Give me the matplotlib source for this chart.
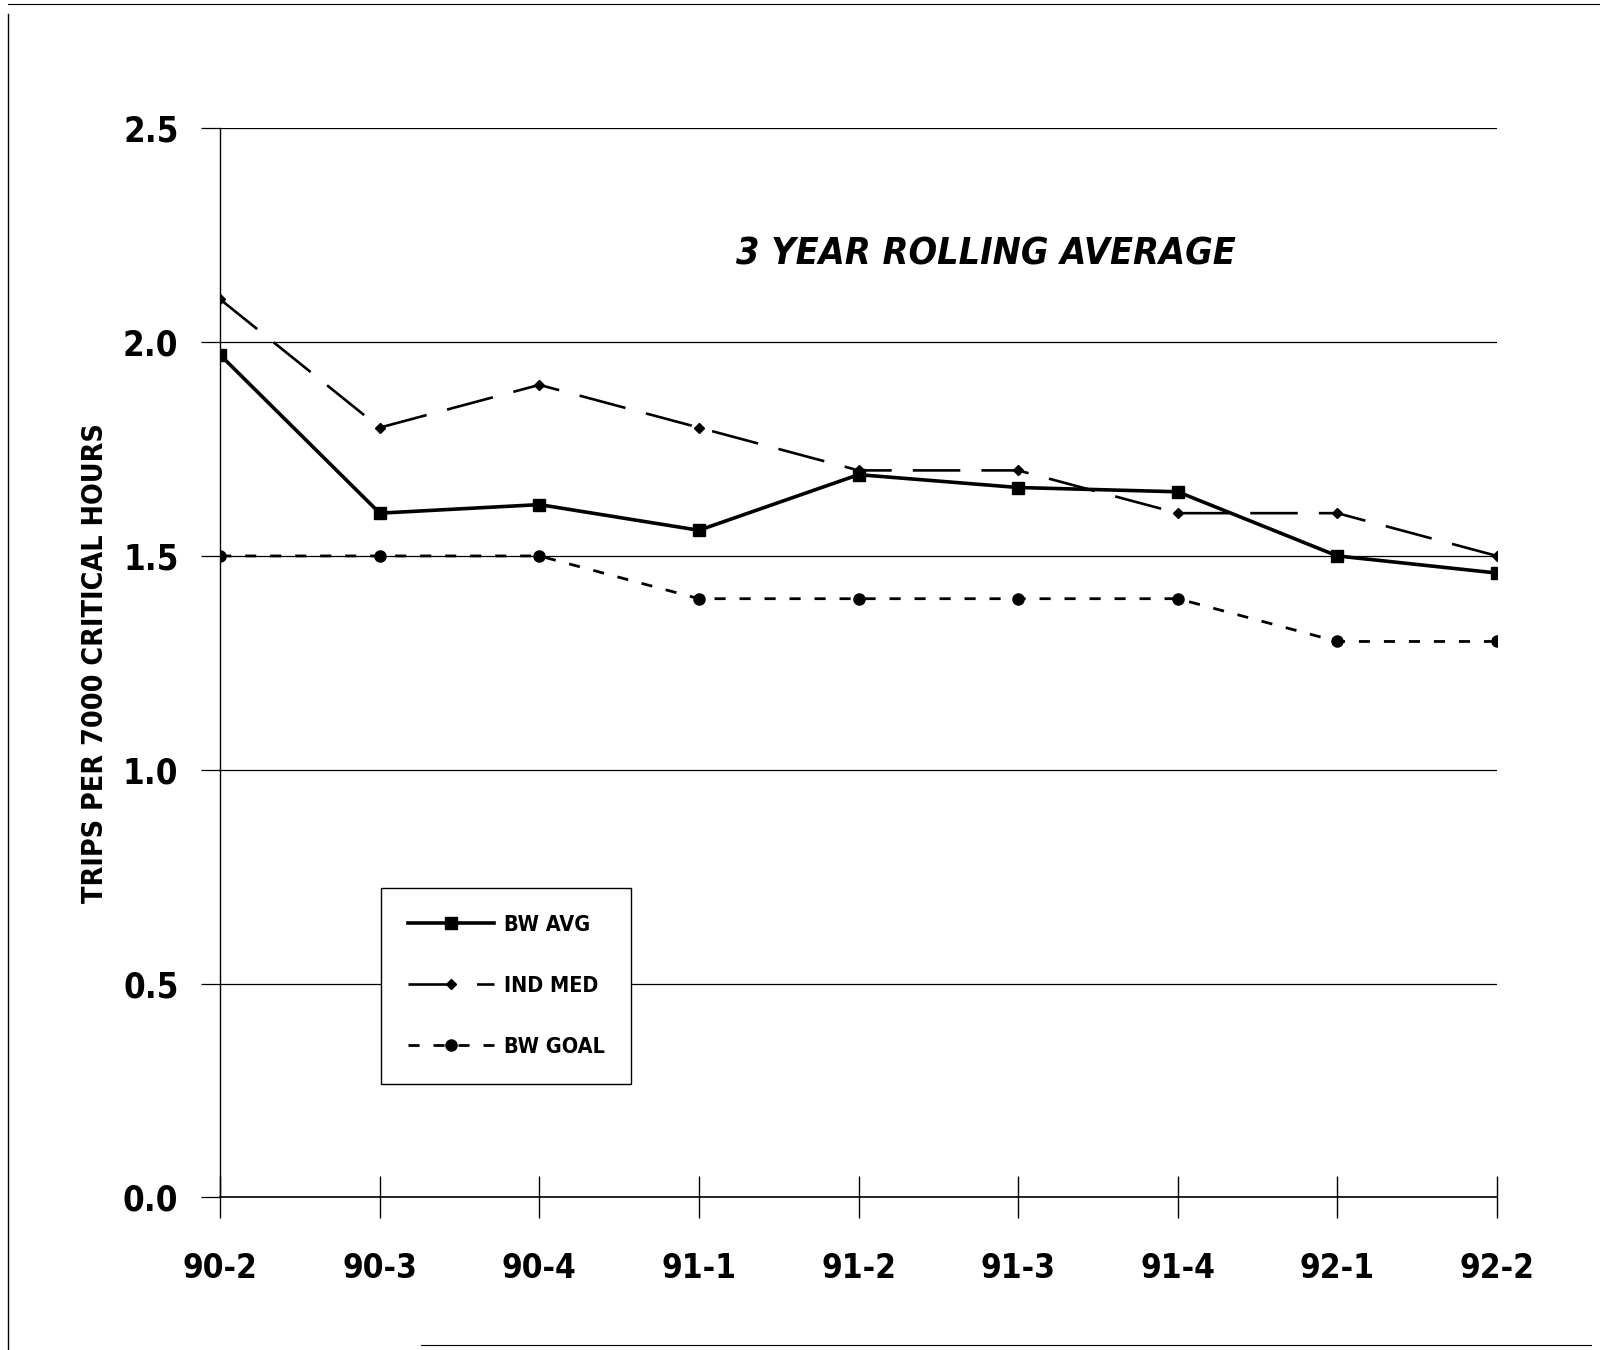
import numpy as np
import matplotlib.pyplot as plt
from matplotlib.lines import Line2D

quarters = ['90-2', '90-3', '90-4', '91-1', '91-2', '91-3', '91-4', '92-1', '92-2']
bw_avg = [1.97, 1.60, 1.62, 1.56, 1.69, 1.66, 1.65, 1.50, 1.46]
ind_med = [2.10, 1.80, 1.90, 1.80, 1.70, 1.70, 1.60, 1.60, 1.50]
bw_goal = [1.50, 1.50, 1.50, 1.40, 1.40, 1.40, 1.40, 1.30, 1.30]
yticks = [0.0, 0.5, 1.0, 1.5, 2.0, 2.5]

plt.rcParams['font.family'] = ['DejaVu Sans']
plt.rcParams['font.stretch'] = 'condensed'

fig = plt.figure(figsize=(16.07, 13.5), dpi=100)
ax = fig.add_axes([0.137, 0.113, 0.7945, 0.792])

x = np.arange(len(quarters))
ax.plot(x, bw_avg, '-', color='black', lw=2.6, marker='s', markersize=8, label='BW AVG')
ax.plot(x, ind_med, color='black', lw=1.9, dashes=(18, 8), marker='D', markersize=5, label='IND MED')
ax.plot(x, bw_goal, color='black', lw=2.0, dashes=(4, 5), marker='o', markersize=8, label='BW GOAL')

ax.set_xlim(0, 8)
ax.set_ylim(0, 2.5)
ax.set_xticks(x)
ax.set_xticklabels(quarters)
ax.set_yticks(yticks)
ax.set_yticklabels(['%.1f' % v for v in yticks])
ax.yaxis.grid(True, color='black', lw=0.9)
ax.set_axisbelow(True)
ax.tick_params(axis='y', length=14, width=0.9, pad=16, labelsize=25)
ax.tick_params(axis='x', direction='inout', length=30, width=1.0, pad=24, labelsize=24)
for lab in ax.get_xticklabels() + ax.get_yticklabels():
    lab.set_fontweight('bold')
    lab.set_fontstretch('condensed')
ax.spines['top'].set_visible(False)
ax.spines['right'].set_visible(False)
ax.spines['left'].set_linewidth(1.0)
ax.spines['bottom'].set_linewidth(1.2)

ax.set_ylabel('TRIPS PER 7000 CRITICAL HOURS', fontsize=20.5, fontweight='bold',
              fontstretch='condensed', labelpad=10)

ax.text(0.6, 0.882, '3 YEAR ROLLING AVERAGE', transform=ax.transAxes, ha='center', va='center',
        fontsize=27, fontweight='bold', fontstyle='italic', fontstretch='condensed')

leg = ax.legend(loc='upper left', bbox_to_anchor=(381 / 1607, 1 - 888 / 1350),
                bbox_transform=fig.transFigure, borderaxespad=0, fancybox=False,
                edgecolor='black', framealpha=1, handlelength=4.0, labelspacing=1.9,
                borderpad=1.25, handletextpad=0.45,
                prop={'size': 15.5, 'weight': 'bold', 'stretch': 'condensed'})
leg.get_frame().set_linewidth(1.0)

# edges of the scanned page
fig.add_artist(Line2D([0.005, 0.005], [0.0, 0.99], color='black', lw=1.0, transform=fig.transFigure))
fig.add_artist(Line2D([0.005, 0.995], [0.997, 0.997], color='black', lw=0.8, transform=fig.transFigure))
fig.add_artist(Line2D([0.262, 0.99], [0.004, 0.004], color='black', lw=0.8, transform=fig.transFigure))

plt.savefig('out.png', dpi=100)
